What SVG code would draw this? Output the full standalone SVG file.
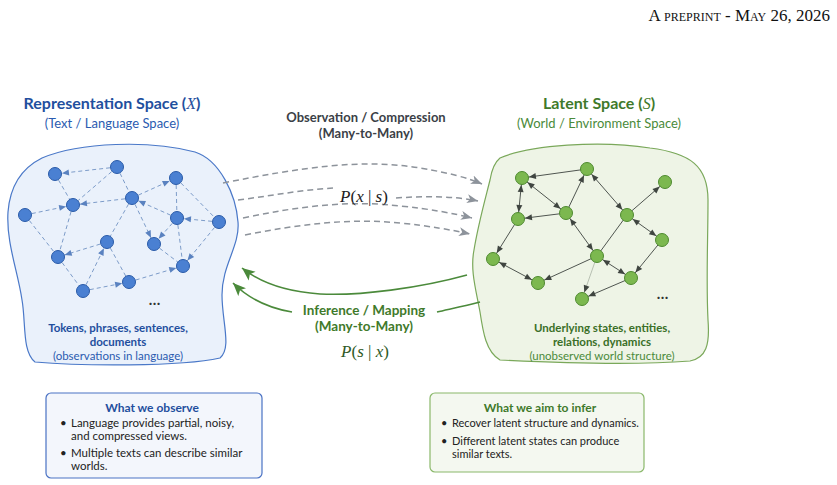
<svg xmlns="http://www.w3.org/2000/svg" width="837" height="485" viewBox="0 0 837 485">
<style>
.sans{font-family:Lato,"Liberation Sans",sans-serif}
.math{font-family:"Liberation Serif","DejaVu Serif",serif;font-style:italic}
.up{font-style:normal}
.bn{fill:#4a80d2;stroke:#2a5ba8;stroke-width:1}
.gn{fill:#7cb84f;stroke:#4e8a2f;stroke-width:1}
.be{stroke:#7d9cc9;stroke-width:1;stroke-dasharray:4 3;fill:none}
.ge{stroke:#4f5550;stroke-width:1;fill:none}
.gray{stroke:#8d939b;stroke-width:1.5;stroke-dasharray:6 4;fill:none}
.grn{stroke:#4b8a3b;stroke-width:1.6;fill:none}
</style>
<defs>
<marker id="ab" viewBox="0 0 20 10" refX="20" refY="5" markerWidth="20" markerHeight="10" markerUnits="userSpaceOnUse" orient="auto"><path d="M6 2 L13 5 L6 8 z" fill="#5a82c0"/></marker>
<marker id="ag" viewBox="0 0 20 10" refX="20" refY="5" markerWidth="20" markerHeight="10" markerUnits="userSpaceOnUse" orient="auto-start-reverse"><path d="M6 2 L13 5 L6 8 z" fill="#3f4540"/></marker>
<marker id="gy" viewBox="0 0 12 10" refX="11" refY="5" markerWidth="12" markerHeight="10" markerUnits="userSpaceOnUse" orient="auto"><path d="M0 0.5 L11 5 L0 9.5 L3 5 z" fill="#8d939b"/></marker>
<marker id="gr" viewBox="0 0 14 12" refX="13" refY="6" markerWidth="14" markerHeight="12" markerUnits="userSpaceOnUse" orient="auto"><path d="M0 0.5 L13 6 L0 11.5 L3 6 z" fill="#4b8a3b"/></marker>
</defs>
<rect width="837" height="485" fill="#ffffff"/>

<text x="830" y="21" text-anchor="end" font-family="Liberation Serif,serif" font-size="17" font-variant="small-caps" fill="#111">A preprint - May 26, 2026</text>

<g id="rep-space">
<path d="M42 158 C80 142 150 140 195 152 C220 160 236 195 238 222 C240 246 222 265 222 295 C222 322 232 348 220 358 C180 367 80 366 35 362 C22 352 26 322 22 300 C18 272 6 242 8 212 C10 186 22 168 42 158 Z" fill="#eaf1fb" stroke="#4a78c8" stroke-width="1.2"/>
<text x="112" y="109" text-anchor="middle" class="sans" font-size="16" font-weight="bold" fill="#1f4f9e">Representation Space (<tspan class="math" font-weight="normal">X</tspan>)</text>
<text x="112" y="128" text-anchor="middle" class="sans" font-size="13" fill="#2a5bb0">(Text / Language Space)</text>
<text x="118" y="332" text-anchor="middle" class="sans" font-size="11.5" font-weight="bold" fill="#1f4f9e">Tokens, phrases, sentences,</text>
<text x="118" y="346" text-anchor="middle" class="sans" font-size="11.5" font-weight="bold" fill="#1f4f9e">documents</text>
<text x="118" y="360" text-anchor="middle" class="sans" font-size="11.5" fill="#2a5bb0">(observations in language)</text>
<text x="155" y="305" text-anchor="middle" class="sans" font-size="15" font-weight="bold" fill="#333" letter-spacing="1">…</text>
</g>

<g id="latent-space">
<path d="M500 158 C530 145 600 140 650 148 C690 153 708 166 708 200 C708 240 706 280 708 320 C710 345 706 358 690 361 C640 365 560 363 500 360 C486 352 483 332 480 312 C476 290 470 270 474 250 C478 225 485 200 490 180 C492 168 495 162 500 158 Z" fill="#eef4e6" stroke="#7aa85a" stroke-width="1.2"/>
<text x="599" y="109" text-anchor="middle" class="sans" font-size="16" font-weight="bold" fill="#3f7a2b">Latent Space (<tspan class="math" font-weight="normal">S</tspan>)</text>
<text x="599" y="128" text-anchor="middle" class="sans" font-size="13" fill="#4a8a3a">(World / Environment Space)</text>
<text x="602" y="332" text-anchor="middle" class="sans" font-size="11.5" font-weight="bold" fill="#3a6f28">Underlying states, entities,</text>
<text x="602" y="346" text-anchor="middle" class="sans" font-size="11.5" font-weight="bold" fill="#3a6f28">relations, dynamics</text>
<text x="602" y="360" text-anchor="middle" class="sans" font-size="11.5" fill="#4a8a3a">(unobserved world structure)</text>
<text x="663" y="299" text-anchor="middle" class="sans" font-size="15" font-weight="bold" fill="#333" letter-spacing="1">…</text>
</g>

<g id="connectors">
<line class="be" x1="117" y1="167" x2="55" y2="174" marker-end="url(#ab)"/>
<line class="be" x1="55" y1="174" x2="73" y2="205"/>
<line class="be" x1="25" y1="215" x2="73" y2="205" marker-end="url(#ab)"/>
<line class="be" x1="132" y1="198" x2="73" y2="205" marker-end="url(#ab)"/>
<line class="be" x1="117" y1="167" x2="73" y2="205"/>
<line class="be" x1="117" y1="167" x2="132" y2="198"/>
<line class="be" x1="73" y1="205" x2="58" y2="257"/>
<line class="be" x1="25" y1="215" x2="58" y2="257"/>
<line class="be" x1="107" y1="242" x2="58" y2="257" marker-end="url(#ab)"/>
<line class="be" x1="83" y1="291" x2="107" y2="242" marker-end="url(#ab)"/>
<line class="be" x1="58" y1="257" x2="83" y2="291"/>
<line class="be" x1="83" y1="291" x2="129" y2="282" marker-end="url(#ab)"/>
<line class="be" x1="107" y1="242" x2="129" y2="282"/>
<line class="be" x1="132" y1="198" x2="107" y2="242"/>
<line class="be" x1="132" y1="198" x2="154" y2="244" marker-end="url(#ab)"/>
<line class="be" x1="132" y1="198" x2="176" y2="178" marker-end="url(#ab)"/>
<line class="be" x1="177" y1="218" x2="132" y2="198" marker-end="url(#ab)"/>
<line class="be" x1="176" y1="178" x2="177" y2="218"/>
<line class="be" x1="176" y1="178" x2="219" y2="222"/>
<line class="be" x1="219" y1="222" x2="177" y2="218" marker-end="url(#ab)"/>
<line class="be" x1="177" y1="218" x2="154" y2="244" marker-end="url(#ab)"/>
<line class="be" x1="219" y1="222" x2="183" y2="266" marker-end="url(#ab)"/>
<line class="be" x1="177" y1="218" x2="183" y2="266"/>
<line class="be" x1="154" y1="244" x2="183" y2="266"/>
<line class="be" x1="129" y1="282" x2="183" y2="266" marker-end="url(#ab)"/>

<line class="ge" x1="587" y1="169" x2="522" y2="178" marker-end="url(#ag)"/>
<line class="ge" x1="522" y1="178" x2="518" y2="219" marker-start="url(#ag)" marker-end="url(#ag)"/>
<line class="ge" x1="522" y1="178" x2="566" y2="213" marker-start="url(#ag)" marker-end="url(#ag)"/>
<line class="ge" x1="566" y1="213" x2="518" y2="219" marker-end="url(#ag)"/>
<line class="ge" x1="566" y1="213" x2="587" y2="169" marker-end="url(#ag)"/>
<line class="ge" x1="587" y1="169" x2="627" y2="215" marker-start="url(#ag)" marker-end="url(#ag)"/>
<line class="ge" x1="627" y1="215" x2="665" y2="182" marker-end="url(#ag)"/>
<line class="ge" x1="627" y1="215" x2="662" y2="240" marker-start="url(#ag)" marker-end="url(#ag)"/>
<line class="ge" x1="627" y1="215" x2="597" y2="256"/>
<line class="ge" x1="566" y1="213" x2="597" y2="256" marker-start="url(#ag)" marker-end="url(#ag)"/>
<line class="ge" x1="518" y1="219" x2="493" y2="259" marker-end="url(#ag)"/>
<line class="ge" x1="493" y1="259" x2="538" y2="283" marker-start="url(#ag)" marker-end="url(#ag)"/>
<line class="ge" x1="597" y1="256" x2="538" y2="283" marker-end="url(#ag)"/>
<line class="ge" x1="597" y1="256" x2="631" y2="278" marker-start="url(#ag)" marker-end="url(#ag)"/>
<line class="ge" x1="662" y1="240" x2="631" y2="278" marker-end="url(#ag)"/>
<line class="ge" x1="631" y1="278" x2="582" y2="299" marker-end="url(#ag)"/>
<line x1="597" y1="256" x2="582" y2="299" stroke="#a9b2a4" stroke-width="0.8" fill="none" marker-end="url(#ag)"/>

<path class="gray" d="M223 183 C300 168 360 158 420 168 C450 173 468 178 482 184" marker-end="url(#gy)"/>
<path class="gray" d="M238 200 C270 196 300 190 333 188"/>
<path class="gray" d="M396 198 C425 196 455 196 478 201" marker-end="url(#gy)"/>
<path class="gray" d="M243 218 C300 206 350 200 400 206 C430 209 452 213 472 218" marker-end="url(#gy)"/>
<path class="gray" d="M245 235 C300 224 350 218 400 223 C430 226 452 230 470 234" marker-end="url(#gy)"/>

<path class="grn" d="M467 275 C420 288 360 296 320 294 C290 292 262 284 242 268" marker-end="url(#gr)"/>
<path class="grn" d="M480 302 C465 306 450 309 437 312"/>
<path class="grn" d="M292 312 C268 308 248 298 233 283" marker-end="url(#gr)"/>
</g>

<g id="nodes-left">
<circle class="bn" cx="55" cy="174" r="6.5"/>
<circle class="bn" cx="117" cy="167" r="6.5"/>
<circle class="bn" cx="176" cy="178" r="6.5"/>
<circle class="bn" cx="25" cy="215" r="6.5"/>
<circle class="bn" cx="73" cy="205" r="6.5"/>
<circle class="bn" cx="132" cy="198" r="6.5"/>
<circle class="bn" cx="177" cy="218" r="6.5"/>
<circle class="bn" cx="219" cy="222" r="6.5"/>
<circle class="bn" cx="107" cy="242" r="6.5"/>
<circle class="bn" cx="154" cy="244" r="6.5"/>
<circle class="bn" cx="58" cy="257" r="6.5"/>
<circle class="bn" cx="183" cy="266" r="6.5"/>
<circle class="bn" cx="83" cy="291" r="6.5"/>
<circle class="bn" cx="129" cy="282" r="6.5"/>
</g>

<g id="nodes-right">
<circle class="gn" cx="522" cy="178" r="6.5"/>
<circle class="gn" cx="587" cy="169" r="6.5"/>
<circle class="gn" cx="665" cy="182" r="6.5"/>
<circle class="gn" cx="518" cy="219" r="6.5"/>
<circle class="gn" cx="566" cy="213" r="6.5"/>
<circle class="gn" cx="627" cy="215" r="6.5"/>
<circle class="gn" cx="662" cy="240" r="6.5"/>
<circle class="gn" cx="493" cy="259" r="6.5"/>
<circle class="gn" cx="597" cy="256" r="6.5"/>
<circle class="gn" cx="538" cy="283" r="6.5"/>
<circle class="gn" cx="631" cy="278" r="6.5"/>
<circle class="gn" cx="582" cy="299" r="6.5"/>
</g>

<g id="obs-label">
<text x="366" y="122" text-anchor="middle" class="sans" font-size="13" font-weight="bold" fill="#3b3f47">Observation / Compression</text>
<text x="366" y="138" text-anchor="middle" class="sans" font-size="13" font-weight="bold" fill="#3b3f47">(Many-to-Many)</text>
<text x="364" y="202" text-anchor="middle" class="math" font-size="17" fill="#222">P<tspan class="up">(</tspan>x<tspan class="up"> | </tspan>s<tspan class="up">)</tspan></text>
</g>

<g id="inf-label">
<text x="364" y="315" text-anchor="middle" class="sans" font-size="13.5" font-weight="bold" fill="#3f7a2b">Inference / Mapping</text>
<text x="364" y="331" text-anchor="middle" class="sans" font-size="13.5" font-weight="bold" fill="#3f7a2b">(Many-to-Many)</text>
<text x="365" y="357" text-anchor="middle" class="math" font-size="17" fill="#2f5a26">P<tspan class="up">(</tspan>s<tspan class="up"> | </tspan>x<tspan class="up">)</tspan></text>
</g>

<g id="observe-box">
<rect x="46" y="393" width="216" height="85" rx="5" fill="#f3f6fc" stroke="#4a72c4" stroke-width="1.2"/>
<text x="152" y="412" text-anchor="middle" class="sans" font-size="12" font-weight="bold" fill="#1f4f9e">What we observe</text>
<g class="sans" font-size="11.5" fill="#222">
<text x="60" y="427">•</text><text x="71" y="427">Language provides partial, noisy,</text>
<text x="71" y="440">and compressed views.</text>
<text x="60" y="457">•</text><text x="71" y="457">Multiple texts can describe similar</text>
<text x="71" y="470">worlds.</text>
</g>
</g>

<g id="infer-box">
<rect x="430" y="393" width="214" height="79" rx="5" fill="#f4f8f0" stroke="#8ab86a" stroke-width="1.2"/>
<text x="540" y="412" text-anchor="middle" class="sans" font-size="12" font-weight="bold" fill="#3f7a2b">What we aim to infer</text>
<g class="sans" font-size="11" fill="#222">
<text x="441" y="427">•</text><text x="452" y="427">Recover latent structure and dynamics.</text>
<text x="441" y="445">•</text><text x="452" y="445">Different latent states can produce</text>
<text x="452" y="458">similar texts.</text>
</g>
</g>
</svg>
